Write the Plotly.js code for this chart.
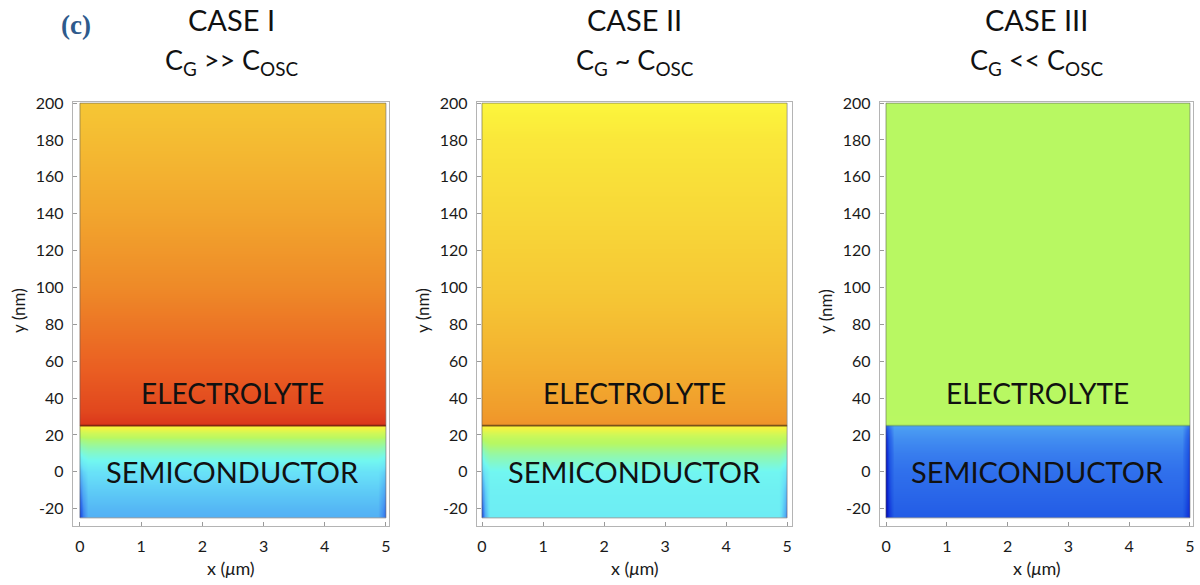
<!DOCTYPE html>
<html>
<head>
<meta charset="utf-8">
<script src="https://cdn.plot.ly/plotly-3.0.1.min.js"></script>
<style>
  html, body { margin: 0; padding: 0; background: #ffffff; }
  #chart { width: 1200px; height: 585px; }
</style>
</head>
<body>
<div id="chart"></div>
<script>
// ---------------- DATA ----------------
const caseTitles = ["CASE I", "CASE II", "CASE III"];
const caseSubtitles = [
  "C<sub>G</sub> >> C<sub>OSC</sub>",
  "C<sub>G</sub> ~ C<sub>OSC</sub>",
  "C<sub>G</sub> << C<sub>OSC</sub>"
];
const regionLabels = ["ELECTROLYTE", "SEMICONDUCTOR"];
const regionLabelY = [43, 0];          // nm
const regionLabelX = 2.5;              // µm
const panelLetter = "(c)";

const xTicks = [0, 1, 2, 3, 4, 5];
const yTicks = [-20, 0, 20, 40, 60, 80, 100, 120, 140, 160, 180, 200];

const deviceX = [0, 5];                // µm
const deviceY = [-25, 200];            // nm
const interfaceY = 25;                 // nm

// grid of the simulated field (normalised potential, 0..1)
const elecX = [0, 0.004, 4.996, 5];
const elecY = [25, 25.1, 33, 60, 100, 140, 180, 199.9, 200];
const semiX = [0, 0.004, 0.04, 0.13, 2.5, 4.87, 4.96, 4.996, 5];
const semiY = [-25, -24.9, -20, -10, 0, 10, 18, 23, 24.9, 25];
// column type across x of semiconductor grid: E=edge, M=mid, C=centre
const semiColumnType = ["E", "E", "M", "C", "C", "C", "M", "E", "E"];

// electrolyte profiles (per elecY)
const case1Elec = [0.995, 0.995, 0.975, 0.945, 0.90, 0.855, 0.815, 0.795, 0.795];
const case2Elec = [0.885, 0.885, 0.87, 0.835, 0.79, 0.75, 0.725, 0.70, 0.70];
const case3Elec = [0.542, 0.542, 0.541, 0.540, 0.540, 0.540, 0.540, 0.540, 0.540];

// semiconductor profiles (per semiY)
const case1SemiC = [0.285, 0.285, 0.30, 0.33, 0.365, 0.45, 0.53, 0.64, 0.69, 0.69];
const case1SemiM = [0.20, 0.20, 0.22, 0.28, 0.34, 0.44, 0.525, 0.635, 0.69, 0.69];
const case1SemiE = [0.08, 0.08, 0.12, 0.20, 0.30, 0.42, 0.52, 0.63, 0.69, 0.69];

const case2SemiC = [0.39, 0.39, 0.395, 0.40, 0.415, 0.49, 0.56, 0.645, 0.69, 0.69];
const case2SemiM = [0.28, 0.28, 0.30, 0.33, 0.38, 0.47, 0.55, 0.645, 0.69, 0.69];
const case2SemiE = [0.12, 0.12, 0.16, 0.24, 0.33, 0.44, 0.54, 0.64, 0.69, 0.69];

const case3SemiC = [0.13, 0.13, 0.14, 0.16, 0.18, 0.20, 0.225, 0.245, 0.26, 0.26];
const case3SemiM = [0.07, 0.07, 0.075, 0.09, 0.10, 0.115, 0.14, 0.17, 0.20, 0.20];
const case3SemiE = [0.01, 0.01, 0.01, 0.015, 0.02, 0.03, 0.05, 0.09, 0.14, 0.14];

// ---------------- STYLE ----------------
const colorscale = [
  [0.00, "#0008b8"], [0.06, "#1030d8"], [0.12, "#2058e4"], [0.18, "#3070ec"],
  [0.24, "#4898f2"], [0.30, "#55b8f5"], [0.36, "#68e0f8"], [0.42, "#72f8f0"],
  [0.48, "#90f8b0"], [0.54, "#b8f862"], [0.60, "#d0f858"], [0.66, "#f2f542"],
  [0.70, "#fcf63c"], [0.75, "#f8d838"], [0.80, "#f5c434"], [0.85, "#f2a82e"],
  [0.90, "#ee8a28"], [0.95, "#ea5e22"], [1.00, "#d8301a"]
];
const interfaceColors = ["rgba(110,25,10,0.85)", "rgba(100,65,20,0.85)", "rgba(80,120,60,0.35)"];
const xDomains = [[73/1200, 389/1200], [477/1200, 792/1200], [880/1200, 1193/1200]];
const xRanges = [[-0.114, 5.05], [-0.082, 5.08], [-0.099, 5.05]];
const yDomain = [(585-526)/585, (585-102)/585];
const yRange = [-29.4, 200.6];
const FONT = "Lato, 'Open Sans', sans-serif";
const regionFontSizes = [28, 29];

// ---------------- BUILD ----------------
const elecProfiles = [case1Elec, case2Elec, case3Elec];
const semiProfiles = [
  {C: case1SemiC, M: case1SemiM, E: case1SemiE},
  {C: case2SemiC, M: case2SemiM, E: case2SemiE},
  {C: case3SemiC, M: case3SemiM, E: case3SemiE}
];

const traces = [];
const layout = {
  width: 1200, height: 585,
  margin: {l: 0, r: 0, t: 0, b: 0},
  paper_bgcolor: "#ffffff", plot_bgcolor: "#ffffff",
  showlegend: false, hovermode: false,
  font: {family: FONT, color: "#222"},
  annotations: [], shapes: []
};

for (let p = 0; p < 3; p++) {
  const sfx = p === 0 ? "" : String(p + 1);
  const xa = "x" + sfx, ya = "y" + sfx;

  const ez = elecY.map((_, i) => elecX.map(() => elecProfiles[p][i]));
  traces.push({
    type: "heatmap", x: elecX, y: elecY, z: ez,
    zmin: 0, zmax: 1, colorscale: colorscale, zsmooth: "best",
    showscale: false, xaxis: xa, yaxis: ya, hoverinfo: "skip"
  });

  const sz = semiY.map((_, i) => semiColumnType.map(t => semiProfiles[p][t][i]));
  traces.push({
    type: "heatmap", x: semiX, y: semiY, z: sz,
    zmin: 0, zmax: 1, colorscale: colorscale, zsmooth: "best",
    showscale: false, xaxis: xa, yaxis: ya, hoverinfo: "skip"
  });

  // interface line
  traces.push({
    type: "scatter", mode: "lines",
    x: deviceX, y: [interfaceY, interfaceY],
    line: {color: interfaceColors[p], width: 1.8},
    xaxis: xa, yaxis: ya, hoverinfo: "skip"
  });

  // device outline
  traces.push({
    type: "scatter", mode: "lines",
    x: [deviceX[0], deviceX[1], deviceX[1], deviceX[0], deviceX[0]],
    y: [deviceY[0], deviceY[0], deviceY[1], deviceY[1], deviceY[0]],
    line: {color: "rgba(90,90,90,0.55)", width: 1},
    xaxis: xa, yaxis: ya, hoverinfo: "skip"
  });

  layout["xaxis" + sfx] = {
    domain: xDomains[p], range: xRanges[p], anchor: ya,
    tickvals: xTicks, ticktext: xTicks.map(String),
    showgrid: false, zeroline: false,
    showline: true, linecolor: "#b4b4b4", linewidth: 1.2, mirror: true,
    ticks: "inside", ticklen: 4, tickcolor: "#9a9a9a", tickwidth: 1,
    tickfont: {family: FONT, size: 16, color: "#1a1a1a"},
    ticklabelstandoff: 6
  };
  layout["yaxis" + sfx] = {
    domain: yDomain, range: yRange, anchor: xa,
    tickvals: yTicks, ticktext: yTicks.map(String),
    showgrid: false, zeroline: false,
    showline: true, linecolor: "#b4b4b4", linewidth: 1.2, mirror: true,
    ticks: "inside", ticklen: 4, tickcolor: "#9a9a9a", tickwidth: 1,
    tickfont: {family: FONT, size: 16, color: "#1a1a1a"},
    ticklabelstandoff: 5
  };

  const cx = (xDomains[p][0] + xDomains[p][1]) / 2;
  layout.annotations.push(
    {xref: "paper", yref: "paper", x: cx, y: 1 - 20/585, text: caseTitles[p],
     showarrow: false, xanchor: "center", yanchor: "middle",
     font: {family: FONT, size: 29, color: "#111"}},
    {xref: "paper", yref: "paper", x: cx, y: 1 - 62/585, text: caseSubtitles[p],
     showarrow: false, xanchor: "center", yanchor: "middle",
     font: {family: FONT, size: 27, color: "#111"}},
    {xref: "paper", yref: "paper", x: cx, y: 1 - 568/585, text: "x (<i>μ</i>m)",
     showarrow: false, xanchor: "center", yanchor: "middle",
     font: {family: FONT, size: 18, color: "#1a1a1a"}},
    {xref: "paper", yref: "paper", x: (xDomains[p][0]*1200 - 55)/1200, y: (585-311)/585,
     text: "y (nm)", textangle: -90,
     showarrow: false, xanchor: "center", yanchor: "middle",
     font: {family: FONT, size: 17, color: "#1a1a1a"}}
  );
  for (let r = 0; r < regionLabels.length; r++) {
    layout.annotations.push({
      xref: xa, yref: ya, x: regionLabelX, y: regionLabelY[r], text: regionLabels[r],
      showarrow: false, xanchor: "center", yanchor: "middle",
      font: {family: FONT, size: regionFontSizes[r], color: "#111"}
    });
  }
}

layout.annotations.push({
  xref: "paper", yref: "paper", x: 76/1200, y: 1 - 25/585, text: "<b>" + panelLetter + "</b>",
  showarrow: false, xanchor: "center", yanchor: "middle",
  font: {family: "'Liberation Serif', 'DejaVu Serif', serif", size: 27, color: "#2e5a8c"}
});

Plotly.newPlot("chart", traces, layout, {staticPlot: true, displayModeBar: false});
</script>
</body>
</html>
